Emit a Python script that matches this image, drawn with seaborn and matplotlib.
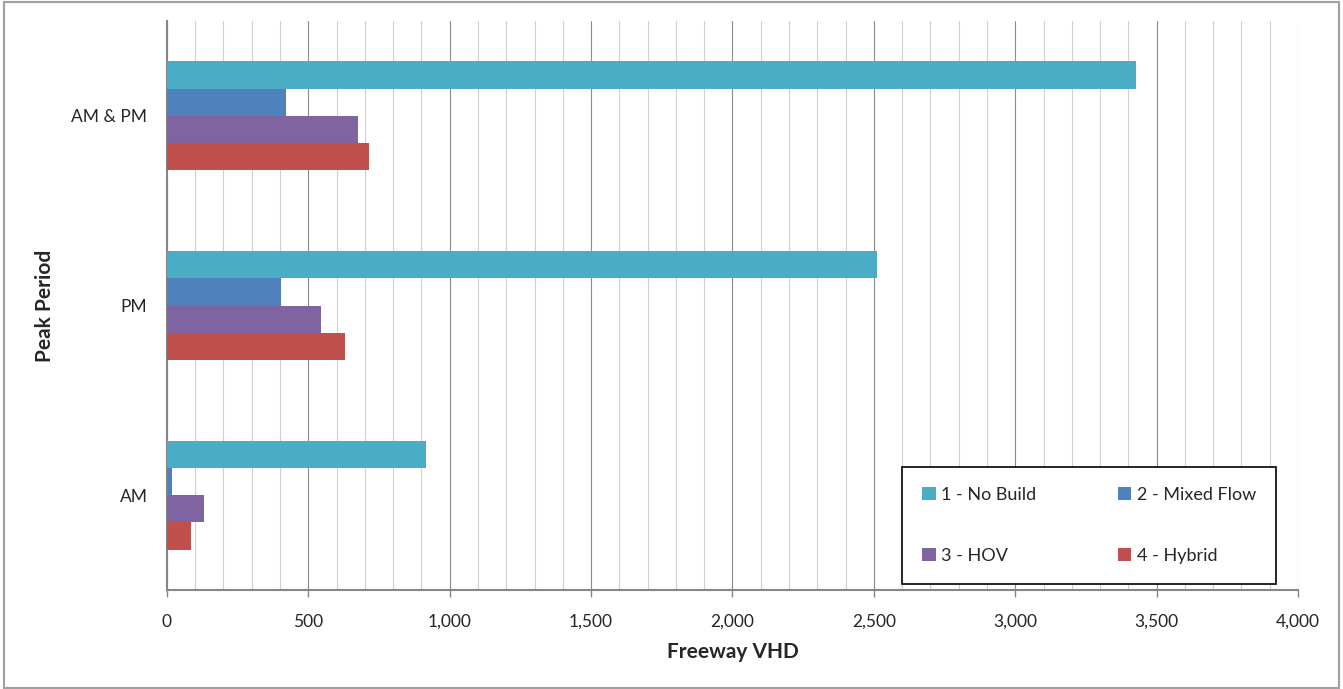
import pandas as pd
import seaborn as sns
import matplotlib.pyplot as plt
from matplotlib.patches import Rectangle, Patch
from matplotlib.ticker import MultipleLocator, FuncFormatter

# Chart data
periods = ["AM & PM", "PM", "AM"]
scenarios = ["1 - No Build", "2 - Mixed Flow", "3 - HOV", "4 - Hybrid"]
no_build = [3427, 2510, 917]
mixed_flow = [421, 402, 18]
hov = [677, 545, 132]
hybrid = [716, 631, 84]
x_ticks = [0, 500, 1000, 1500, 2000, 2500, 3000, 3500, 4000]

colors = ["#4BACC6", "#4F81BD", "#8064A2", "#C0504D"]

# Build a long table for seaborn
rows = []
for name, values in zip(scenarios, [no_build, mixed_flow, hov, hybrid]):
    for period, value in zip(periods, values):
        rows.append({"Period": period, "Scenario": name, "VHD": value})
vhd_data = pd.DataFrame(rows)

sns.set_style("white")
plt.rcParams["font.family"] = ["Lato", "DejaVu Sans"]

fig = plt.figure(figsize=(13.43, 6.89), dpi=100)
ax = fig.add_axes([0.1243, 0.1437, 0.8422, 0.8258])

# Generate the chart
sns.barplot(
    data=vhd_data,
    x="VHD",
    y="Period",
    hue="Scenario",
    order=periods,
    hue_order=scenarios,
    palette=colors,
    orient="h",
    width=0.575,
    gap=0,
    saturation=1,
    errorbar=None,
    edgecolor="none",
    ax=ax,
    legend=False,
    zorder=3,
)

# Axis range and gridlines
ax.set_xlim(0, 4000)
ax.set_xticks(x_ticks)
ax.xaxis.set_minor_locator(MultipleLocator(100))
ax.xaxis.set_major_formatter(FuncFormatter(lambda v, p: f"{int(v):,}"))
ax.grid(axis="x", which="major", color="#8C8C8C", linewidth=0.8, zorder=0)
ax.grid(axis="x", which="minor", color="#CFCFCF", linewidth=0.8, zorder=0)
ax.grid(axis="y", visible=False)
ax.set_axisbelow(True)

for side in ["top", "right"]:
    ax.spines[side].set_visible(False)
for side in ["left", "bottom"]:
    ax.spines[side].set_color("#868686")
    ax.spines[side].set_linewidth(1.5)

ax.tick_params(axis="x", which="major", length=5, width=1, color="#868686",
               pad=12, labelsize=12.5, bottom=True)
ax.tick_params(axis="x", which="minor", length=0)
ax.tick_params(axis="y", length=0, pad=14, labelsize=12.5)

# Label the chart
ax.set_xlabel("Freeway VHD", fontsize=15, fontweight="bold", labelpad=9)
ax.set_ylabel("Peak Period", fontsize=15, fontweight="bold", labelpad=12)

# Legend box, filled row by row like the original
order = [0, 2, 1, 3]
handles = [Patch(facecolor=colors[i], edgecolor="none") for i in order]
labels = [scenarios[i] for i in order]
leg = ax.legend(
    handles,
    labels,
    ncol=2,
    loc="lower left",
    bbox_to_anchor=(0.650, 0.0105, 0.3305, 0.2145),
    mode="expand",
    borderaxespad=0,
    fontsize=13,
    handlelength=0.75,
    handleheight=0.75,
    handletextpad=0.3,
    labelspacing=2.5,
    borderpad=1.1,
    fancybox=False,
    framealpha=1,
)
leg.get_frame().set_edgecolor("black")
leg.get_frame().set_linewidth(1.2)
leg.set_zorder(5)

# Outer chart border
fig.patches.append(Rectangle((0.003, 0.002), 0.994, 0.995, transform=fig.transFigure,
                             fill=False, edgecolor="#A0A0A0", linewidth=1.5))

# Save the chart
plt.savefig("out.png", dpi=100)
